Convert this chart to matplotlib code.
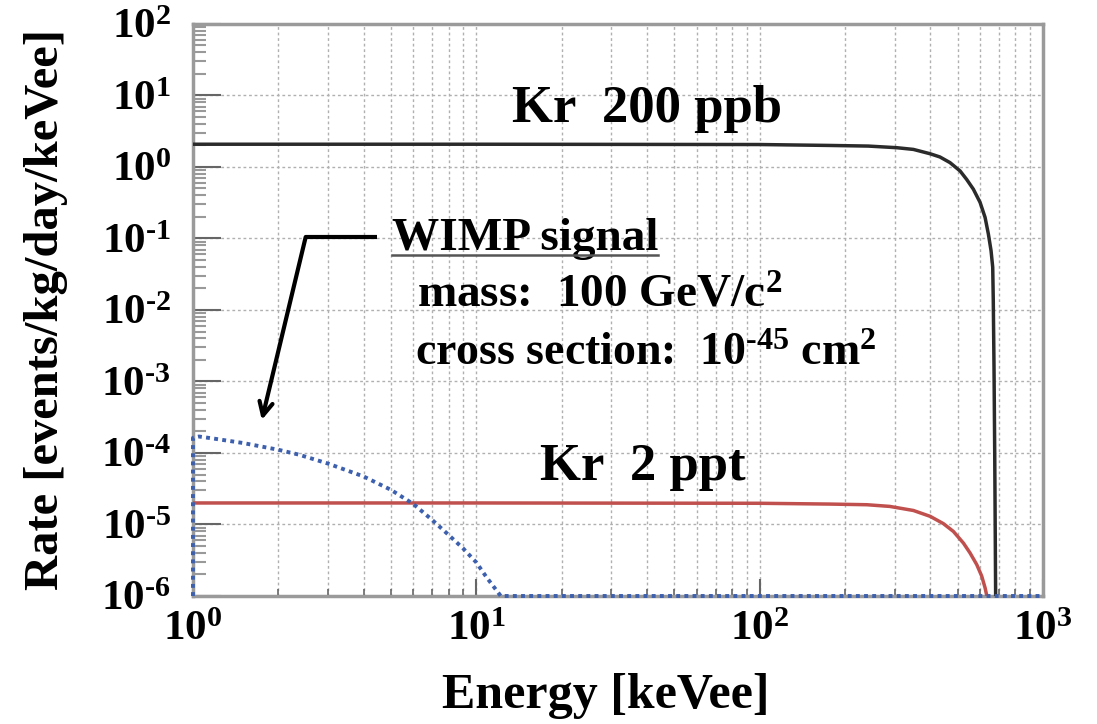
import numpy as np
import matplotlib
matplotlib.use("Agg")
import matplotlib.pyplot as plt
from matplotlib.ticker import FixedLocator, LogLocator, FuncFormatter, NullFormatter
from matplotlib.lines import Line2D

# ==== fonts ====
plt.rcParams['font.family'] = ['Liberation Serif', 'DejaVu Serif']
plt.rcParams['font.weight'] = 'bold'
plt.rcParams['mathtext.fontset'] = 'custom'
plt.rcParams['mathtext.rm'] = 'Liberation Serif:bold'
plt.rcParams['mathtext.it'] = 'Liberation Serif:bold'
plt.rcParams['mathtext.bf'] = 'Liberation Serif:bold'

# ==== data ====
# Kr 200 ppb background
kr200_E = [1, 10, 100, 177, 242, 305, 349, 400, 433, 470, 510, 538, 568, 600, 625,
           642, 656, 665, 668, 672, 676, 681]
kr200_rate = [2.08, 2.08, 2.06, 2.0, 1.96, 1.86, 1.76, 1.53, 1.38, 1.15, 0.88, 0.67,
              0.49, 0.32, 0.197, 0.115, 0.0675, 0.0396, 0.0136, 1.6e-3, 8.9e-5, 1e-6]

# Kr 2 ppt background
kr2_E = [1, 10, 100, 177, 239, 288, 349, 400, 445, 483, 524, 553, 584, 608, 625, 634]
kr2_rate = [2.0e-5, 2.0e-5, 1.98e-5, 1.93e-5, 1.89e-5, 1.79e-5, 1.57e-5, 1.30e-5,
            1.03e-5, 8.0e-6, 5.5e-6, 4.0e-6, 2.75e-6, 1.9e-6, 1.3e-6, 1e-6]

# WIMP signal, 100 GeV/c2, 1e-45 cm2
wimp_E = [1, 1, 1.05, 1.21, 1.5, 2.0, 2.36, 3, 4, 5, 6, 7, 8, 9, 10, 10.9, 12.2,
          20, 50, 100, 200, 500, 1000]
wimp_rate = [1e-6, 1.63e-4, 1.7e-4, 1.57e-4, 1.38e-4, 1.11e-4, 9.5e-5, 7.1e-5, 4.7e-5,
             3.05e-5, 1.93e-5, 1.15e-5, 7.1e-6, 4.6e-6, 2.95e-6, 1.8e-6, 1e-6,
             1e-6, 1e-6, 1e-6, 1e-6, 1e-6, 1e-6]

xlabel = "Energy [keVee]"
ylabel = "Rate [events/kg/day/keVee]"


def pow10_label(v, pos):
    k = int(round(np.log10(v)))
    if k < 0:
        return r'$10^{\text{-}%d}$' % (-k)
    return r'$10^{%d}$' % k


# ==== plot ====
fig = plt.figure(figsize=(10.97, 7.24), dpi=100)
ax = fig.add_axes([0.1759, 0.1768, 0.7748, 0.7901])

ax.plot(kr200_E, kr200_rate, color='#2b2b2b', lw=2.5, zorder=4)
ax.plot(kr2_E, kr2_rate, color='#c0504d', lw=2.5, zorder=4)
ax.plot(wimp_E, wimp_rate, color='#3c5fae', lw=2.8, linestyle=(0, (1, 1.1)),
        zorder=5, clip_on=False)

ax.set_xscale('log')
ax.set_yscale('log')
ax.set_xlim(1, 1000)
ax.set_ylim(1e-6, 1e2)

ax.xaxis.set_major_locator(FixedLocator([1, 10, 100, 1000]))
ax.yaxis.set_major_locator(FixedLocator([10.0 ** k for k in range(-6, 3)]))
ax.xaxis.set_minor_locator(LogLocator(base=10, subs=np.arange(2, 10), numticks=20))
ax.yaxis.set_minor_locator(LogLocator(base=10, subs=np.arange(2, 10), numticks=20))
ax.xaxis.set_major_formatter(FuncFormatter(pow10_label))
ax.yaxis.set_major_formatter(FuncFormatter(pow10_label))
ax.xaxis.set_minor_formatter(NullFormatter())
ax.yaxis.set_minor_formatter(NullFormatter())

ax.tick_params(axis='both', which='major', labelsize=31, direction='in', color='#666666')
ax.tick_params(axis='x', which='major', length=12, width=1.5, pad=11)
ax.tick_params(axis='x', which='minor', direction='in', length=5, width=1.2, color='#666666')
ax.tick_params(axis='y', which='major', length=20, width=1.5, pad=16)
ax.tick_params(axis='y', which='minor', direction='in', length=9, width=1.5, color='#999999')

ax.grid(True, which='major', axis='both', color='#b0b0b0', linestyle=(0, (2, 2)), linewidth=1.0)
ax.grid(True, which='minor', axis='x', color='#b0b0b0', linestyle=(0, (2, 2)), linewidth=1.0)
ax.set_axisbelow(True)

for sp in ax.spines.values():
    sp.set_color('#9a9a9a')
    sp.set_linewidth(2.5)

ax.set_xlabel(xlabel, fontsize=36, fontweight='bold', labelpad=15)
ax.set_ylabel(ylabel, fontsize=35, fontweight='bold', labelpad=24)
ax.xaxis.set_label_coords(0.486, -0.135)

# ==== annotations ====
ax.text(13.4, 4.26, 'Kr  200 ppb', fontsize=38, fontweight='bold', va='baseline', ha='left')
ax.text(16.8, 4.19e-5, 'Kr  2 ppt', fontsize=38, fontweight='bold', va='baseline', ha='left')

wimp_title = ax.text(5.04, 0.069, 'WIMP signal', fontsize=34, fontweight='bold',
                     va='baseline', ha='left')
ax.text(6.18, 0.011, r'mass:  100 GeV/c$^{2}$', fontsize=34, fontweight='bold',
        va='baseline', ha='left')
ax.text(6.1, 1.7e-3, r'cross section:  $10^{\text{-}45}$ cm$^{2}$', fontsize=33,
        fontweight='bold', va='baseline', ha='left')

# arrow from the WIMP label down to the signal curve
ax.plot([2.5, 4.46], [0.105, 0.105], color='black', lw=3, solid_capstyle='butt', zorder=6)
ax.annotate('', xy=(1.75, 2.9e-4), xytext=(2.5, 0.105),
            arrowprops=dict(arrowstyle='->', lw=3, color='black', mutation_scale=24,
                            shrinkA=0, shrinkB=0), zorder=6)

# underline below "WIMP signal"
fig.canvas.draw()
bb = wimp_title.get_window_extent()
W, H = fig.get_size_inches() * fig.dpi
y_ul = (bb.y0 + 5) / H
fig.add_artist(Line2D([bb.x0 / W, bb.x1 / W], [y_ul, y_ul], color='#555555', lw=1.8))

plt.savefig('out.png', dpi=100)
